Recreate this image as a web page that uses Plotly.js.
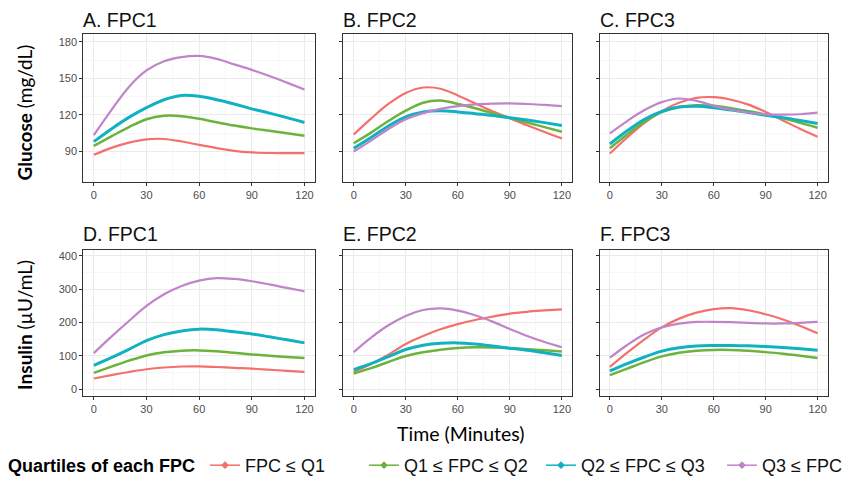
<!DOCTYPE html>
<html>
<head>
<meta charset="utf-8">
<script src="https://cdn.plot.ly/plotly-3.0.1.min.js"></script>
<style>html,body{margin:0;padding:0;background:#fff;}#chart{width:856px;height:484px;}</style>
</head>
<body>
<div id="chart"></div>
<script>
// ---- data ----
const time = [0, 10, 20, 30, 40, 50, 60, 70, 80, 90, 100, 110, 120];
const groups = ['FPC ≤ Q1', 'Q1 ≤ FPC ≤ Q2', 'Q2 ≤ FPC ≤ Q3', 'Q3 ≤ FPC'];
const panelTitles = ['A. FPC1', 'B. FPC2', 'C. FPC3', 'D. FPC1', 'E. FPC2', 'F. FPC3'];
const xTicks = [0, 30, 60, 90, 120];
const gluTicks = [90, 120, 150, 180];
const insTicks = [0, 100, 200, 300, 400];

// Glucose (mg/dL)
const glu_FPC1_q1 = [87.3, 93.0, 97.3, 100.0, 100.3, 98.2, 95.4, 92.8, 90.6, 89.3, 88.8, 88.7, 88.7];
const glu_FPC1_q2 = [94.6, 102.5, 110.0, 116.5, 119.3, 119.0, 116.8, 114.0, 111.3, 109.0, 107.0, 105.0, 103.0];
const glu_FPC1_q3 = [98.1, 108.5, 118.0, 126.0, 132.5, 136.0, 135.3, 132.5, 129.0, 125.0, 121.5, 117.8, 113.8];
const glu_FPC1_q4 = [103.5, 124.0, 143.0, 156.5, 164.0, 167.5, 168.4, 166.0, 161.5, 157.0, 152.0, 146.5, 140.8];

const glu_FPC2_q1 = [104.0, 117.0, 129.0, 138.0, 142.5, 141.5, 136.0, 129.5, 123.0, 117.3, 111.5, 106.0, 100.8];
const glu_FPC2_q2 = [96.8, 105.5, 115.0, 123.5, 130.0, 131.8, 129.0, 125.5, 121.5, 117.5, 113.8, 110.0, 106.2];
const glu_FPC2_q3 = [92.7, 101.5, 111.0, 118.5, 122.5, 123.5, 122.5, 121.0, 119.5, 117.7, 115.8, 113.7, 111.4];
const glu_FPC2_q4 = [90.0, 99.0, 108.5, 116.5, 121.5, 125.0, 127.3, 128.7, 129.3, 129.5, 129.0, 128.2, 127.3];

const glu_FPC3_q1 = [88.4, 101.5, 113.5, 123.0, 130.0, 134.0, 134.6, 132.5, 128.5, 122.5, 115.5, 108.5, 102.2];
const glu_FPC3_q2 = [92.7, 104.0, 114.5, 122.4, 126.5, 128.0, 127.5, 125.5, 123.0, 120.3, 117.2, 113.5, 109.5];
const glu_FPC3_q3 = [96.2, 107.0, 116.5, 123.0, 126.5, 127.2, 126.0, 124.0, 122.0, 119.7, 117.8, 115.5, 113.0];
const glu_FPC3_q4 = [104.9, 115.0, 124.0, 130.5, 133.5, 131.5, 127.5, 124.3, 122.0, 120.5, 120.2, 120.6, 121.9];

// Insulin (µU/mL)
const ins_FPC1_q1 = [32.6, 42.5, 52.0, 60.2, 65.5, 68.5, 69.0, 67.0, 64.5, 62.2, 58.8, 55.5, 52.3];
const ins_FPC1_q2 = [49.4, 68.0, 86.0, 101.7, 111.0, 116.0, 116.8, 114.0, 109.5, 104.7, 100.5, 97.0, 93.8];
const ins_FPC1_q3 = [72.0, 95.0, 120.0, 146.0, 164.0, 175.0, 180.5, 178.5, 172.5, 166.0, 157.5, 148.5, 139.3];
const ins_FPC1_q4 = [108.6, 158.0, 205.0, 250.0, 285.0, 310.0, 326.0, 333.5, 331.0, 324.0, 314.5, 304.0, 294.0];

const ins_FPC2_q1 = [52.3, 76.0, 104.0, 136.0, 160.0, 180.0, 195.6, 208.0, 218.0, 227.0, 232.5, 236.5, 240.0];
const ins_FPC2_q2 = [47.4, 63.5, 82.0, 99.8, 111.0, 119.0, 124.0, 126.2, 125.5, 123.5, 120.0, 117.0, 113.6];
const ins_FPC2_q3 = [59.3, 77.0, 98.0, 119.5, 132.0, 138.0, 139.3, 136.0, 130.0, 123.5, 117.0, 109.5, 101.7];
const ins_FPC2_q4 = [111.6, 155.0, 192.0, 220.0, 238.0, 242.5, 236.0, 222.0, 203.0, 180.7, 160.0, 142.0, 126.4];

const ins_FPC3_q1 = [67.2, 110.0, 150.0, 185.7, 212.0, 230.0, 240.5, 243.5, 237.0, 225.0, 209.5, 190.0, 168.0];
const ins_FPC3_q2 = [42.5, 62.0, 81.5, 98.8, 109.5, 115.5, 118.3, 118.2, 115.5, 111.6, 106.8, 100.5, 93.8];
const ins_FPC3_q3 = [55.3, 77.0, 97.0, 114.6, 125.0, 130.0, 131.4, 131.6, 130.5, 128.4, 125.5, 121.8, 117.5];
const ins_FPC3_q4 = [94.8, 133.0, 165.0, 185.7, 197.0, 202.0, 202.5, 201.5, 199.5, 197.5, 197.5, 199.5, 202.5];

// ---- styles ----
const colors = ['#F4706B', '#6DB23D', '#10B2C2', '#C184CA'];
const widths = [2.2, 2.5, 3, 2.2];

const panels = [
  [glu_FPC1_q1, glu_FPC1_q2, glu_FPC1_q3, glu_FPC1_q4],
  [glu_FPC2_q1, glu_FPC2_q2, glu_FPC2_q3, glu_FPC2_q4],
  [glu_FPC3_q1, glu_FPC3_q2, glu_FPC3_q3, glu_FPC3_q4],
  [ins_FPC1_q1, ins_FPC1_q2, ins_FPC1_q3, ins_FPC1_q4],
  [ins_FPC2_q1, ins_FPC2_q2, ins_FPC2_q3, ins_FPC2_q4],
  [ins_FPC3_q1, ins_FPC3_q2, ins_FPC3_q3, ins_FPC3_q4]
];

const W = 856, H = 484;
const xDom = [[83.3 / W, 315 / W], [343.3 / W, 572.3 / W], [599.5 / W, 828 / W]];
const yDom = [[1 - 184.3 / H, 1 - 34.3 / H], [1 - 401 / H, 1 - 252.7 / H]];

const traces = [];
panels.forEach((series, p) => {
  const sfx = p === 0 ? '' : String(p + 1);
  series.forEach((vals, g) => {
    traces.push({
      type: 'scatter', mode: 'lines', x: time, y: vals,
      xaxis: 'x' + sfx, yaxis: 'y' + sfx,
      line: {color: colors[g], width: widths[g], shape: 'spline', smoothing: 1},
      showlegend: false, hoverinfo: 'skip'
    });
  });
});
// legend entries (one legend per group so spacing matches)
const legendNames = ['legend', 'legend2', 'legend3', 'legend4'];
groups.forEach((name, g) => {
  traces.push({
    type: 'scatter', mode: 'lines+markers', x: [null], y: [null], name: name,
    legend: legendNames[g],
    line: {color: colors[g], width: 1.5},
    marker: {color: colors[g], size: 6, symbol: 'diamond'},
    showlegend: true
  });
});

const tickFont = {family: 'Liberation Sans, Arial, sans-serif', size: 11, color: '#4D4D4D'};
function axis(extra) {
  return Object.assign({
    showline: true, mirror: true, linecolor: '#333333', linewidth: 1,
    ticks: 'outside', ticklen: 3, tickwidth: 1, tickcolor: '#333333',
    showgrid: true, gridcolor: '#EBEBEB', gridwidth: 1,
    zeroline: false, tickfont: tickFont, fixedrange: true
  }, extra);
}

const layout = {
  width: W, height: H,
  margin: {l: 0, r: 0, t: 0, b: 0},
  paper_bgcolor: '#ffffff', plot_bgcolor: '#ffffff',
  font: {family: 'Liberation Sans, Arial, sans-serif', color: '#000'},
  annotations: [], showlegend: true
};

for (let p = 0; p < 6; p++) {
  const sfx = p === 0 ? '' : String(p + 1);
  const col = p % 3, row = Math.floor(p / 3);
  layout['xaxis' + sfx] = axis({
    domain: xDom[col], anchor: 'y' + sfx, range: [-6, 126],
    tickvals: xTicks, ticktext: xTicks.map(String),
    minor: {tickvals: [15, 45, 75, 105], showgrid: true, gridcolor: '#F2F2F2', gridwidth: 0.6, ticks: ''}
  });
  layout['yaxis' + sfx] = axis(row === 0 ? {
    domain: yDom[0], anchor: 'x' + sfx, range: [65, 186.5],
    tickvals: gluTicks, ticktext: gluTicks.map(String), showticklabels: col === 0,
    minor: {tickvals: [75, 105, 135, 165], showgrid: true, gridcolor: '#F2F2F2', gridwidth: 0.6, ticks: ''}
  } : {
    domain: yDom[1], anchor: 'x' + sfx, range: [-20, 419],
    tickvals: insTicks, ticktext: insTicks.map(String), showticklabels: col === 0,
    minor: {tickvals: [50, 150, 250, 350], showgrid: true, gridcolor: '#F2F2F2', gridwidth: 0.6, ticks: ''}
  });
  layout.annotations.push({
    text: panelTitles[p], xref: 'paper', yref: 'paper',
    x: xDom[col][0] - 2 / W, y: row === 0 ? 1 - 20.5 / H : 1 - 237 / H,
    xanchor: 'left', yanchor: 'middle', showarrow: false,
    font: {family: 'Liberation Sans, Arial, sans-serif', size: 19.5, color: '#111'}
  });
}

const labFont = {family: 'Lato, sans-serif', size: 19, color: '#000'};
layout.annotations.push(
  {text: '<b>Glucose</b> (mg/dL)', textangle: -90, xref: 'paper', yref: 'paper',
   x: 25 / W, y: 1 - 114 / H, xanchor: 'center', yanchor: 'middle', showarrow: false, font: labFont},
  {text: '<b>Insulin</b> (µU/mL)', textangle: -90, xref: 'paper', yref: 'paper',
   x: 25 / W, y: 1 - 329 / H, xanchor: 'center', yanchor: 'middle', showarrow: false, font: labFont},
  {text: 'Time (Minutes)', xref: 'paper', yref: 'paper',
   x: 461 / W, y: 1 - 439 / H, xanchor: 'center', yanchor: 'middle', showarrow: false,
   font: {family: 'Lato, sans-serif', size: 19.5, color: '#000'}},
  {text: '<b>Quartiles of each FPC</b>', xref: 'paper', yref: 'paper',
   x: 6 / W, y: 1 - 471.5 / H, xanchor: 'left', yanchor: 'middle', showarrow: false,
   font: {family: 'Liberation Sans, Arial, sans-serif', size: 18, color: '#000'}}
);

const legX = [205, 364, 541, 722];
legendNames.forEach((ln, i) => {
  layout[ln] = {
    orientation: 'h', x: legX[i] / W, y: 1 - 471.5 / H, xanchor: 'left', yanchor: 'middle',
    bgcolor: 'rgba(0,0,0,0)', borderwidth: 0,
    font: {family: 'Liberation Sans, Arial, sans-serif', size: 18, color: '#111'}
  };
});

Plotly.newPlot('chart', traces, layout, {staticPlot: true, displayModeBar: false});
</script>
</body>
</html>
